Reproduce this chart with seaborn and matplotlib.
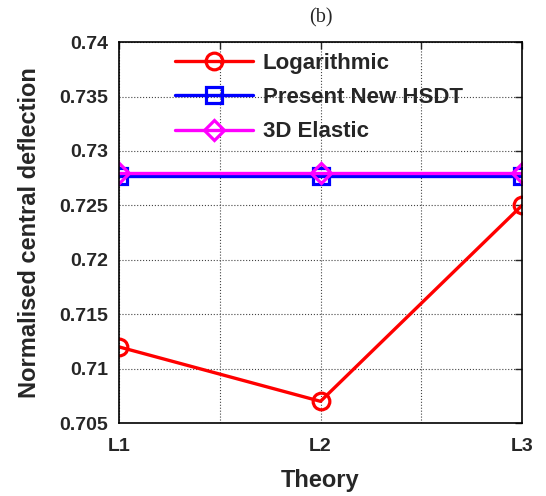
import matplotlib
matplotlib.use("Agg")
import matplotlib.pyplot as plt
import seaborn as sns
import pandas as pd
import numpy as np

theories = ["L1", "L2", "L3"]
logarithmic = [0.712, 0.707, 0.725]
present_hsdt = [0.7277, 0.7277, 0.7277]
elastic_3d = [0.7280, 0.7280, 0.7280]

sns.set_style("white")
plt.rcParams['font.family'] = ['Liberation Sans', 'DejaVu Sans']

pos = [1, 2, 3]
df = pd.DataFrame({
    "x": pos * 3,
    "y": logarithmic + present_hsdt + elastic_3d,
    "series": ["Logarithmic"] * 3 + ["Present New HSDT"] * 3 + ["3D Elastic"] * 3,
})

fig = plt.figure(figsize=(5.46, 4.96), dpi=100)
ax = fig.add_axes([0.218, 0.147, 0.738, 0.768])

styles = {
    "Logarithmic": dict(color="#ff0000", marker="o"),
    "Present New HSDT": dict(color="#0000ff", marker="s"),
    "3D Elastic": dict(color="#ff00ff", marker="D"),
}
msize = {"Logarithmic": 12, "Present New HSDT": 11.5, "3D Elastic": 10.5}
for name in ["Logarithmic", "Present New HSDT", "3D Elastic"]:
    sub = df[df.series == name]
    st = styles[name]
    sns.lineplot(data=sub, x="x", y="y", ax=ax, color=st["color"], marker=st["marker"],
                 markersize=msize[name], markerfacecolor="none", markeredgecolor=st["color"],
                 markeredgewidth=2.3, linewidth=2.4, label=name, estimator=None)

ax.set_xlim(1, 3)
ax.set_ylim(0.705, 0.74)
ax.set_xticks([1, 1.5, 2, 2.5, 3])
ax.set_xticklabels(["L1", "", "L2", "", "L3"])
ax.set_yticks(np.arange(0.705, 0.7401, 0.005))
ax.set_yticklabels(["0.705", "0.71", "0.715", "0.72", "0.725", "0.73", "0.735", "0.74"])
ax.grid(True, linestyle=":", color="#444444", linewidth=0.8)
ax.tick_params(direction="in", length=5, width=1, top=True, right=True, labelsize=14)
ax.tick_params(axis="y", pad=8)
ax.tick_params(axis="x", pad=11)
for lab in ax.get_xticklabels() + ax.get_yticklabels():
    lab.set_fontweight("bold")
for sp in ax.spines.values():
    sp.set_color("black")
    sp.set_linewidth(1.2)
ax.set_xlabel("Theory", fontsize=17, fontweight="bold", labelpad=10)
ax.set_ylabel("Normalised central deflection", fontsize=17, fontweight="bold", labelpad=13)
ax.set_title("(b)", fontsize=14.5, family="Liberation Serif", pad=14)

leg = ax.legend(loc="upper left", bbox_to_anchor=(0.139, 0.972), frameon=False,
                prop={"weight": "bold", "size": 16}, handlelength=3.5, handletextpad=0.45,
                labelspacing=0.6, borderaxespad=0, borderpad=0)

fig.savefig("out.png", dpi=100)
